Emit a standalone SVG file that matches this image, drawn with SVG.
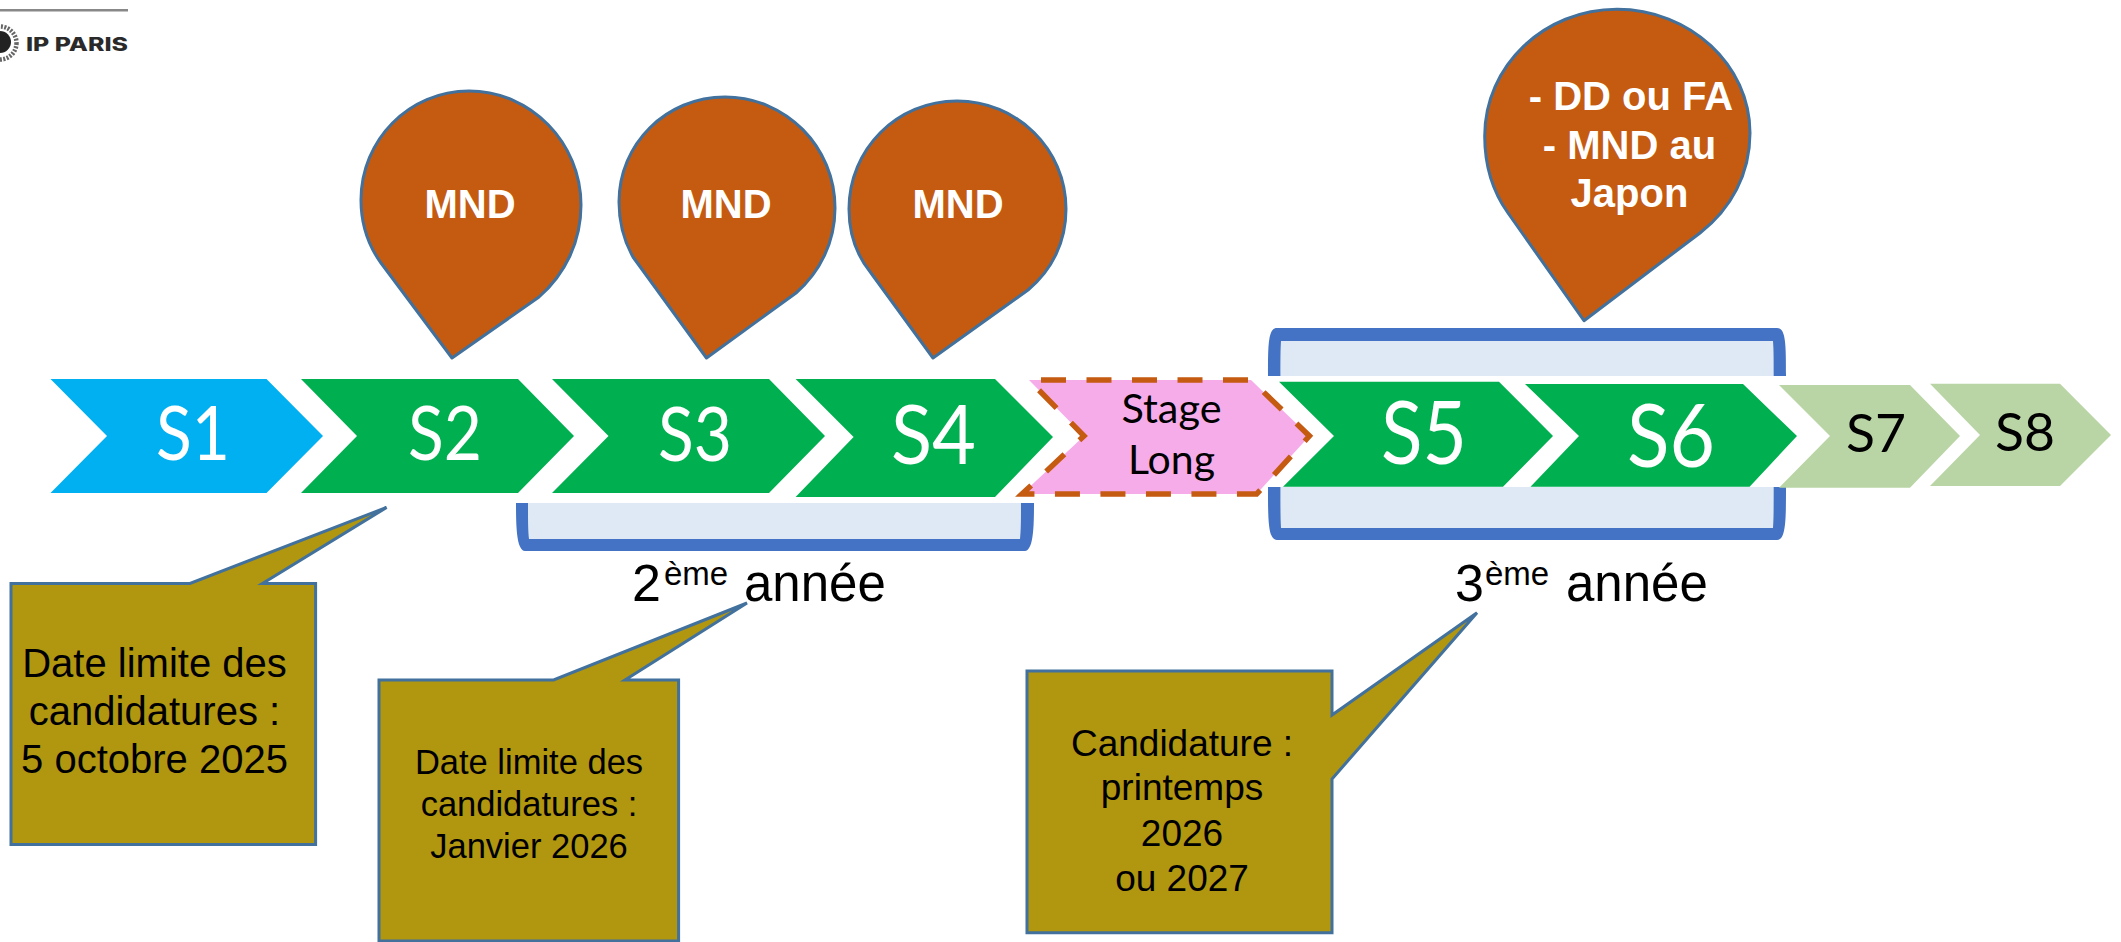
<svg xmlns="http://www.w3.org/2000/svg" width="2121" height="942" viewBox="0 0 2121 942">
<style>
text{font-family:"Liberation Sans",Arial,sans-serif}
.cal{font-family:Lato,"Open Sans",sans-serif;text-anchor:middle}
.w{fill:#fff}
.k{fill:#000}
.pin{fill:#C55A11;stroke:#41719C;stroke-width:3;stroke-linejoin:round}
.pt{fill:#fff;font-weight:700;text-anchor:middle}
.call{fill:#B19610;stroke:#41719C;stroke-width:3;stroke-linejoin:miter}
.ct{fill:#000;text-anchor:middle}
.blue{fill:#4472C4}
.pale{fill:#DEE9F5}
.green{fill:#00B050}
.lg{fill:#B9D5A5}
</style>
<rect width="2121" height="942" fill="#fff"/>
<g id="logo">
<rect x="0" y="9" width="128" height="2.5" fill="#888"/>
<circle cx="0" cy="42" r="11" fill="#222"/>
<circle cx="0" cy="43" r="16.5" fill="none" stroke="#666" stroke-width="4.5" stroke-dasharray="2 1.4"/>
<text x="26" y="50.5" font-weight="800" font-size="18.5" textLength="102" lengthAdjust="spacingAndGlyphs" fill="#2a2a2a" style="font-family:Inter,sans-serif">IP PARIS</text>
</g>
<g id="bracket-2eme">
<rect class="pale" x="528" y="503" width="493" height="36"/>
<path class="blue" d="M516,503C516,530 517,550 525,551L1025,551C1033,550 1034,530 1034,503L1021,503C1021,520 1021,530 1020,539L529,539C528,530 528,520 528,503Z"/>
</g>
<g id="bracket-3eme">
<rect class="pale" x="1280" y="341" width="494" height="35"/>
<rect class="pale" x="1280" y="487" width="494" height="41"/>
<path class="blue" d="M1268,376C1268,345 1268,328 1277,328L1777,328C1786,328 1786,345 1786,376L1773.7,376C1773.7,360 1773.7,350 1773,341L1281,341C1280.4,350 1280.4,360 1280.4,376Z"/>
<path class="blue" d="M1268,487C1268,520 1268,540 1277,540L1777,540C1786,540 1786,520 1786,487L1773.7,487C1773.7,505 1773.7,518 1773,528L1281,528C1280.4,518 1280.4,505 1280.4,487Z"/>
</g>
<g id="S1"><path fill="#00B0F0" d="M50.5,379L266.5,379L323,436L266.5,493L50.5,493L107,436Z"/><text class="cal w" x="193" y="459.5" font-size="75" textLength="74" lengthAdjust="spacingAndGlyphs">S1</text></g>
<g id="S2"><path class="green" d="M301,379L518,379L574,436L518,493L301,493L357,436Z"/><text class="cal w" x="445" y="459.5" font-size="75" textLength="74" lengthAdjust="spacingAndGlyphs">S2</text></g>
<g id="S3"><path class="green" d="M552,379L769,379L825,436L769,493L552,493L608.5,436Z"/><text class="cal w" x="695" y="460.5" font-size="76" textLength="74" lengthAdjust="spacingAndGlyphs">S3</text></g>
<g id="S4"><path class="green" d="M795.6,379L995,379L1053,437L995,497L795.6,497L853.6,437Z"/><text class="cal w" x="933.5" y="464" font-size="81" textLength="85" lengthAdjust="spacingAndGlyphs">S4</text></g>
<g id="stage-long"><path fill="#F7ACEA" stroke="#C55A11" stroke-width="5.5" stroke-dasharray="25 20.5" stroke-dashoffset="-12" d="M1029,380L1251,380L1309.4,436L1256.6,494L1022,494L1084,436Z"/><text class="cal k" x="1171.5" y="423" font-size="40" textLength="100" lengthAdjust="spacingAndGlyphs">Stage</text><text class="cal k" x="1171.5" y="474" font-size="40" textLength="87" lengthAdjust="spacingAndGlyphs">Long</text></g>
<g id="S5"><path class="green" d="M1279,381.7L1499,381.7L1553,436L1503,486.7L1283,486.7L1334,436Z"/><text class="cal w" x="1424" y="464" font-size="87" textLength="86" lengthAdjust="spacingAndGlyphs">S5</text></g>
<g id="S6"><path class="green" d="M1525,384L1743,384L1797,436L1749.6,486.7L1530.5,486.7L1579,436Z"/><text class="cal w" x="1671" y="466.5" font-size="88" textLength="88" lengthAdjust="spacingAndGlyphs">S6</text></g>
<g id="S7"><path class="lg" d="M1779,385L1910,385L1960,436L1910,487.7L1779,487.7L1830,436Z"/><text class="cal k" x="1876" y="451.5" font-size="52" textLength="60" lengthAdjust="spacingAndGlyphs">S7</text></g>
<g id="S8"><path class="lg" d="M1930,383.7L2060,383.7L2111,435L2060,486L1930,486L1980,435Z"/><text class="cal k" x="2025" y="450.5" font-size="52" textLength="60" lengthAdjust="spacingAndGlyphs">S8</text></g>
<g id="pin-1"><path class="pin" d="M452,358L381,263C368,245 361,224 361,200C361,140 409,91 469,91C531,91 581,143 581,205C581,242 565,274 539,297Z"/><text class="pt" x="470" y="217.5" font-size="40">MND</text></g>
<g id="pin-2"><path class="pin" d="M706.5,358L633,257C624,241 619,222 619,202C619,144 666,97 725,97C786,97 835,147 835,208C835,242 820,272 796,293Z"/><text class="pt" x="726" y="217.5" font-size="40">MND</text></g>
<g id="pin-3"><path class="pin" d="M933,358L871,273C857,256 849,233 849,209C849,149 897,101 957,101C1017,101 1066,149 1066,209C1066,242 1052,270 1028,290Z"/><text class="pt" x="958" y="217.5" font-size="40">MND</text></g>
<g id="pin-4"><path class="pin" d="M1584,320.7L1508,213C1493,192 1484.7,165 1484.7,136C1484.7,66 1544,9.3 1617,9.3C1690,9.3 1750,65 1750,133C1750,174 1731,209 1700,233Z"/><text class="pt" x="1631" y="110" font-size="40">- DD ou FA</text><text class="pt" x="1629.5" y="159.3" font-size="40">- MND au</text><text class="pt" x="1629.5" y="207.3" font-size="40">Japon</text></g>
<g id="label-2eme"><text font-size="52" x="632" y="601">2<tspan font-size="33" x="664" y="585">ème</tspan><tspan font-size="51" x="744" y="601">année</tspan></text></g>
<g id="label-3eme"><text font-size="52" x="1455" y="601">3<tspan font-size="33" x="1485" y="585">ème</tspan><tspan font-size="51" x="1566" y="601">année</tspan></text></g>
<g id="callout-1"><path class="call" d="M11,583.5L190,583.5L386.6,507.4L262.5,583.5L315.6,583.5L315.6,844.4L11,844.4Z"/><text class="ct" x="154.5" y="676.5" font-size="40">Date limite des</text><text class="ct" x="154.5" y="725" font-size="40">candidatures :</text><text class="ct" x="154.5" y="773" font-size="40">5 octobre 2025</text></g>
<g id="callout-2"><path class="call" d="M379,680L553.6,680L747,603L625,680L678.6,680L678.6,941L379,941Z"/><text class="ct" x="529" y="774" font-size="34.5">Date limite des</text><text class="ct" x="529" y="816" font-size="34.5">candidatures :</text><text class="ct" x="529" y="857.5" font-size="34.5">Janvier 2026</text></g>
<g id="callout-3"><path class="call" d="M1027,671L1332,671L1332,715L1477,612.7L1332,779L1332,932.7L1027,932.7Z"/><text class="ct" x="1182" y="756" font-size="37">Candidature :</text><text class="ct" x="1182" y="800" font-size="37">printemps</text><text class="ct" x="1182" y="846" font-size="37">2026</text><text class="ct" x="1182" y="890.5" font-size="37">ou 2027</text></g>
</svg>
